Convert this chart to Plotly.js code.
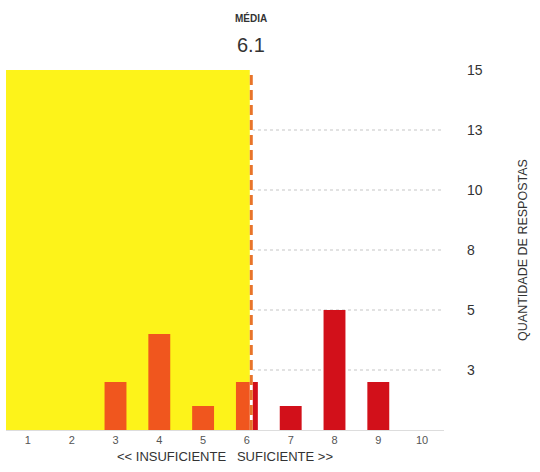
<!DOCTYPE html>
<html><head><meta charset="utf-8">
<script src="https://cdn.plot.ly/plotly-3.0.1.min.js"></script>
<style>html,body{margin:0;padding:0;background:#fff}#chart{width:540px;height:472px}</style>
</head><body><div id="chart"></div>
<script>
const grades = [1, 2, 3, 4, 5, 6, 7, 8, 9, 10];
const counts = [0, 0, 2, 4, 1, 2, 1, 5, 2, 0];
const mean = 6.1;
const yTickVals = [2.5, 5, 7.5, 10, 12.5, 15];
const yTickText = ['3', '5', '8', '10', '13', '15'];
const meanLabel = 'MÉDIA';
const xTitle = '<< INSUFICIENTE   SUFICIENTE >>';
const yTitle = 'QUANTIDADE DE RESPOSTAS';

const barW = 0.5;
const orange = '#F0561E', red = '#D2101A';
// split bars at the mean
const oX = [], oY = [], oW = [], rX = [], rY = [], rW = [];
grades.forEach((g, i) => {
  const l = g - barW / 2, r = g + barW / 2, v = counts[i];
  if (!v) return;
  if (r <= mean) { oX.push(g); oY.push(v); oW.push(barW); }
  else if (l >= mean) { rX.push(g); rY.push(v); rW.push(barW); }
  else {
    oX.push((l + mean) / 2); oY.push(v); oW.push(mean - l);
    rX.push((mean + r) / 2); rY.push(v); rW.push(r - mean);
  }
});
const traces = [
  {type: 'bar', x: oX, y: oY, width: oW, marker: {color: orange}, hoverinfo: 'skip'},
  {type: 'bar', x: rX, y: rY, width: rW, marker: {color: red}, hoverinfo: 'skip'},
  {type: 'scatter', mode: 'lines', x: [mean, mean], y: [0, 15], line: {color: '#fff', width: 3}, hoverinfo: 'skip'},
  {type: 'scatter', mode: 'lines', x: [mean, mean], y: [0, 15], line: {color: '#E8742A', width: 3, dash: '10px,5px'}, hoverinfo: 'skip'}
];
const layout = {
  width: 540, height: 472,
  margin: {l: 6, r: 96, t: 70, b: 42},
  paper_bgcolor: '#fff', plot_bgcolor: '#fff',
  showlegend: false, barmode: 'overlay',
  font: {family: 'Liberation Sans, Arial, sans-serif', color: '#333'},
  xaxis: {range: [0.5, 10.5], tickvals: grades, ticktext: grades.map(String), showgrid: false, zeroline: false,
    showline: true, linecolor: '#ddd', linewidth: 1, ticks: '', tickfont: {size: 11, color: '#555'},
    title: {text: xTitle, font: {size: 13, color: '#333'}, standoff: 6}},
  yaxis: {range: [0, 15], side: 'right', tickvals: yTickVals, ticktext: yTickText, showgrid: true,
    gridcolor: '#e2e2e2', griddash: 'dot', gridwidth: 1.5, zeroline: false, showline: false, ticks: '',
    tickfont: {size: 14, color: '#333'}, ticklabelstandoff: 22,
    title: {text: yTitle, font: {size: 12.5, color: '#333'}, standoff: 36}},
  shapes: [{type: 'rect', layer: 'between', xref: 'x', yref: 'y', x0: 0.5, x1: mean, y0: 0, y1: 15,
    fillcolor: '#FDF31A', line: {width: 0}}],
  annotations: [
    {xref: 'x', yref: 'paper', x: mean, y: 1, yshift: 52, text: '<b>' + meanLabel + '</b>', showarrow: false,
      font: {size: 10, color: '#333'}, yanchor: 'middle'},
    {xref: 'x', yref: 'paper', x: mean, y: 1, yshift: 25, text: String(mean), showarrow: false,
      font: {size: 20, color: '#333'}, yanchor: 'middle'}
  ]
};
Plotly.newPlot('chart', traces, layout, {displayModeBar: false, staticPlot: true});
</script></body></html>
